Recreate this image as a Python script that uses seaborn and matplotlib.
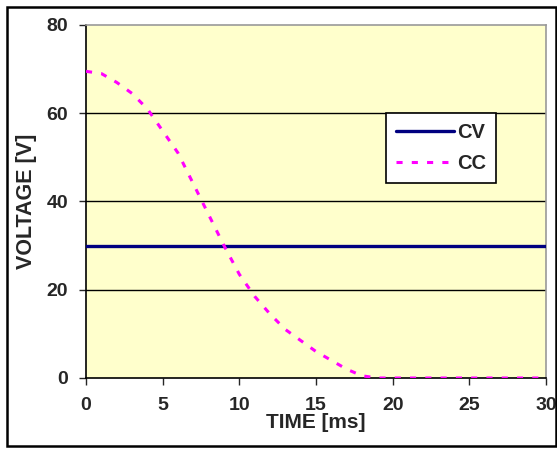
import numpy as np
import pandas as pd
import matplotlib
matplotlib.use("Agg")
import matplotlib.pyplot as plt
import seaborn as sns
from matplotlib.patches import Rectangle

# data
time_ms = [0, 1, 2, 3, 4, 5, 6, 7, 8, 9, 10, 11, 12, 13, 14, 15, 16, 17, 18,
           19, 20, 21, 22, 23, 24, 25, 26, 27, 28, 29, 30]
cc_volts = [69.5, 69, 67, 64.5, 61, 56, 51, 44, 37, 30, 23.5, 18.5, 14.5, 11, 8.5,
            6, 4, 2, 0.5, 0, 0, 0, 0, 0, 0, 0, 0, 0, 0, 0, 0]
cv_volts = [30] * len(time_ms)

df = pd.DataFrame({"t": time_ms, "CV": cv_volts, "CC": cc_volts})

sns.set_style("white")
plt.rcParams["font.family"] = ["Liberation Sans", "DejaVu Sans"]
plt.rcParams["font.weight"] = "bold"

fig = plt.figure(figsize=(5.57, 4.49), dpi=100)
ax = fig.add_axes([86 / 557, 71 / 449, 460 / 557, 353 / 449])
ax.set_facecolor("#FFFFCC")

# outer chart frame
fig.patches.append(Rectangle((7 / 557, 3 / 449), 549 / 557, 439 / 449,
                             transform=fig.transFigure, fill=False,
                             edgecolor="black", linewidth=1.8))

for y in [20, 40, 60]:
    ax.axhline(y, color="black", linewidth=1.0, zorder=1)

sns.lineplot(data=df, x="t", y="CV", ax=ax, color="#000080", linewidth=2.4,
             label="CV", zorder=3)
sns.lineplot(data=df, x="t", y="CC", ax=ax, color="#FF00FF", linewidth=2.2,
             label="CC", zorder=4)
ax.lines[-1].set_dashes([2.0, 3.0])

ax.set_xlim(0, 30)
ax.set_ylim(0, 80)
ax.set_xticks([0, 5, 10, 15, 20, 25, 30])
ax.set_yticks([0, 20, 40, 60, 80])
ax.tick_params(axis="both", direction="out", length=5, width=1, labelsize=14,
               bottom=True, left=True)
ax.tick_params(axis="x", pad=9)
ax.tick_params(axis="y", pad=8)
for lab in ax.get_xticklabels() + ax.get_yticklabels():
    lab.set_fontweight("bold")

ax.set_xlabel("TIME [ms]", fontsize=15, fontweight="bold")
ax.xaxis.set_label_coords(0.5, -0.1)
ax.set_ylabel("VOLTAGE [V]", fontsize=15.5, fontweight="bold")
ax.yaxis.set_label_coords(-0.107, 0.5)

for s in ["left", "bottom"]:
    ax.spines[s].set_color("black")
    ax.spines[s].set_linewidth(1.2)
for s in ["top", "right"]:
    ax.spines[s].set_color("#999999")
    ax.spines[s].set_linewidth(1.2)

leg = ax.legend(loc="upper left", bbox_to_anchor=(0.652, 0.75), frameon=True,
                fancybox=False, edgecolor="black", framealpha=1,
                prop={"weight": "bold", "size": 14.5}, handlelength=2.9,
                handletextpad=0.15, borderpad=0.5, labelspacing=0.6,
                borderaxespad=0)
leg.get_frame().set_linewidth(1.2)

fig.savefig("out.png", dpi=100)
